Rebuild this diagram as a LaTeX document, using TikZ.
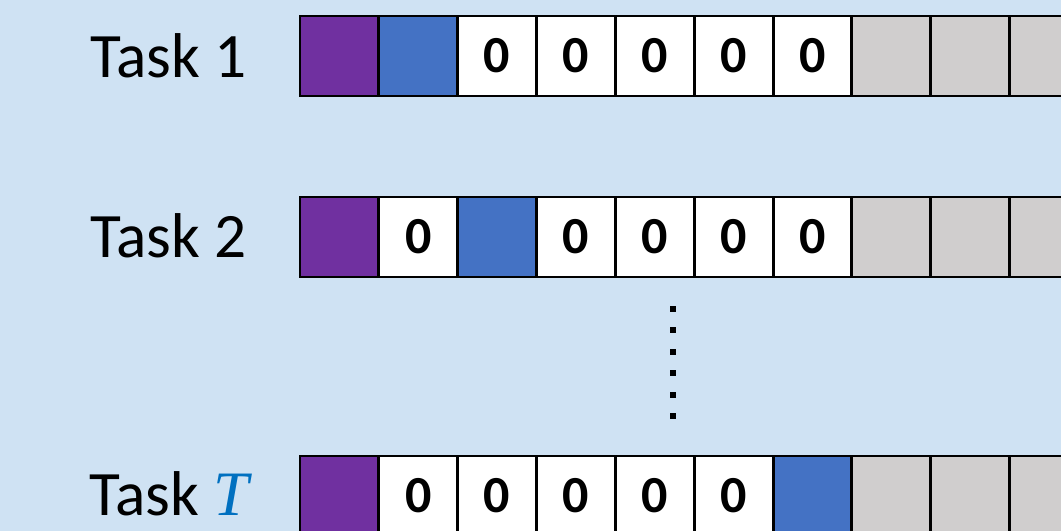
\documentclass[tikz,border=0pt]{standalone}
\usepackage{fontspec}
\setmainfont{Carlito}
\newfontfamily\tserif{Liberation Serif}
\usepackage{xcolor}
\usetikzlibrary{positioning}
\definecolor{bgblue}{HTML}{CFE2F3}
\definecolor{mpurple}{HTML}{7030A0}
\definecolor{mblue}{HTML}{4472C4}
\definecolor{mgray}{HTML}{D0CECE}
\definecolor{tblue}{HTML}{0070C0}

\begin{document}
\begin{tikzpicture}[
    x=0.025cm, y=-0.025cm,
    cell/.style={
        draw=black,
        line width=2.1pt,
        minimum width=1.97cm,
        minimum height=2cm,
        inner sep=0pt,
        outer sep=0pt,
        anchor=north west,
        font=\fontsize{37}{40}\selectfont\bfseries
    },
    tasklabel/.style={
        anchor=base east,
        inner sep=0pt,
        font=\fontsize{45}{50}\selectfont
    },
    vdot/.style={
        fill=black,
        minimum size=0.15cm,
        inner sep=0pt
    }
]

\fill[bgblue] (0,0) rectangle (1061,531);
\useasboundingbox (0,0) rectangle (1061,531);
\clip (0,0) rectangle (1061,531);

% task rows
\def\rowone{mpurple/{},mblue/{},white/0,white/0,white/0,white/0,white/0,mgray/{},mgray/{},mgray/{}}
\def\rowtwo{mpurple/{},white/0,mblue/{},white/0,white/0,white/0,white/0,mgray/{},mgray/{},mgray/{}}
\def\rowT{mpurple/{},white/0,white/0,white/0,white/0,white/0,mblue/{},mgray/{},mgray/{},mgray/{}}

\foreach \row/\ytop/\cells in {1/16/rowone, 2/197/rowtwo, T/456/rowT}{
    \expandafter\let\expandafter\pat\csname\cells\endcsname
    \foreach \f/\t [count=\i from 0] in \pat{
        \node[cell, fill=\f] (t\row-\i) at (300+78.85*\i,\ytop) {\t};
    }
}

\node[tasklabel] (lab1) at (247,78) {Task 1};
\node[tasklabel] (lab2) at (247,258) {Task 2};
\node[tasklabel] (labT) at (249,515) {Task {\tserif\itshape\color{tblue}T}};

% vertical dots
\foreach \k in {0,...,5}{
    \node[vdot] (vd\k) at (673,309+21.4*\k) {};
}

\end{tikzpicture}
\end{document}
